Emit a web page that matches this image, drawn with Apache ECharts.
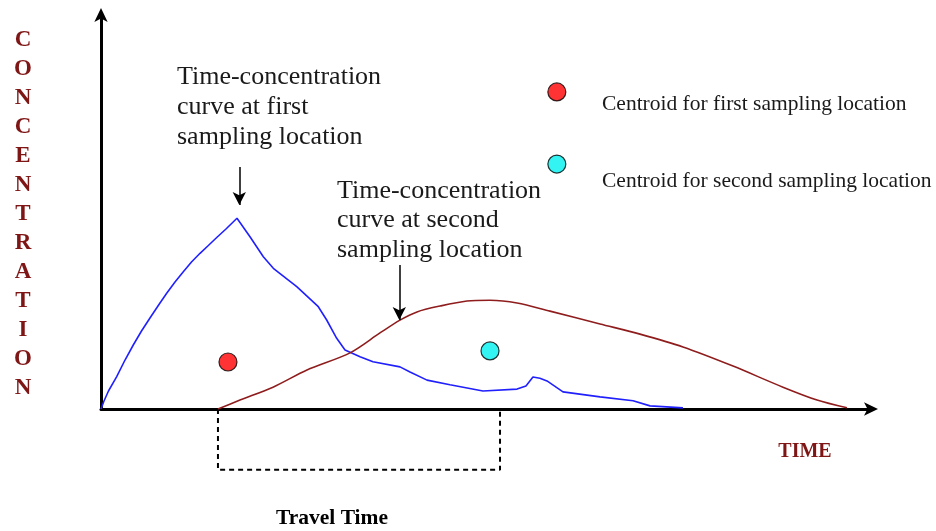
<!DOCTYPE html>
<html>
<head>
<meta charset="utf-8">
<script src="https://cdn.jsdelivr.net/npm/echarts@6/dist/echarts.min.js"></script>
<style>
html,body{margin:0;padding:0;background:#fff;}
#chart{width:936px;height:531px;}
</style>
</head>
<body>
<div id="chart"></div>
<script>
// Time-concentration curve at the first sampling location [time, concentration]
const firstCurve = [
  [0,0],[0.39,2.05],[0.97,4.62],[2.04,8.28],[3.12,12.56],[4.19,16.41],[5.26,20.0],
  [6.36,23.33],[7.66,27.18],[8.53,29.67],[9.61,32.56],[10.69,35.21],[11.75,37.69],
  [12.86,39.92],[13.94,41.92],[15.03,43.97],[16.23,46.15],[17.66,48.9],
  [19.35,44.18],[21.08,39.05],[22.38,36.08],[25.42,31.36],[28.22,26.23],[29.31,22.82],
  [30.61,18.13],[31.69,15.13],[33.64,13.41],[35.32,12.1],[38.83,10.8],[40.13,9.5],
  [42.34,7.4],[45.32,6.2],[49.61,4.6],[54.03,5.1],[55.19,5.9],[56.1,8.2],[57.0,7.9],
  [57.92,7.2],[60.0,4.4],[64.81,3.1],[69.1,2.1],[71.3,0.8],[75.58,0.3]
];
// Time-concentration curve at the second sampling location
const secondCurve = [
  [15.19,0],[18.05,2.3],[22.34,5.6],[26.75,10.0],[32.34,14.4],[36.23,19.5],
  [38.83,22.8],[41.04,24.9],[44.03,26.4],[47.53,27.7],[50.52,27.9],[54.03,27.2],
  [58.31,25.1],[64.81,21.8],[70.0,19.2],[75.58,15.9],[82.08,11.0],[88.57,5.6],
  [92.99,2.3],[96.88,0.3]
];
// Centroids
const centroidFirst = [16.49, 12.05];
const centroidSecond = [50.52, 14.9];
// Legend marker positions
const legendMarks = [[59.2, 81.3], [59.2, 62.8]];
const legendLabels = ['Centroid for first sampling location', 'Centroid for second sampling location'];
// Travel time bracket
const travelStart = 15.19;
const travelEnd = 51.82;
const bracketDepth = -15.6;
// Annotation arrows [x, yFrom, yTo]
const arrowFirst = [17.96, 62.05, 52.3];
const arrowSecond = [38.74, 36.9, 22.8];
const annotFirst = 'Time-concentration\ncurve at first\nsampling location';
const annotSecond = 'Time-concentration\ncurve at second\nsampling location';
const yTitle = 'CONCENTRATION';
const xTitle = 'TIME';
const travelTitle = 'Travel Time';

const serif = "'Liberation Serif','Times New Roman',serif";
const chart = echarts.init(document.getElementById('chart'));

const bracket = [[travelStart,0],[travelStart,bracketDepth],[travelEnd,bracketDepth],[travelEnd,0]];

chart.setOption({
  animation: false,
  backgroundColor: '#fff',
  grid: {left: 101, right: 65, top: 19, bottom: 122},
  xAxis: {
    type: 'value', min: 0, max: 100,
    axisLine: {show: true, lineStyle: {color: '#000', width: 3}, symbol: ['none','arrow'], symbolSize: [10,14], symbolOffset: [0,7]},
    axisTick: {show: false}, axisLabel: {show: false}, splitLine: {show: false}
  },
  yAxis: {
    type: 'value', min: 0, max: 100,
    axisLine: {show: true, lineStyle: {color: '#000', width: 3}, symbol: ['none','arrow'], symbolSize: [10,14], symbolOffset: [0,11]},
    axisTick: {show: false}, axisLabel: {show: false}, splitLine: {show: false}
  },
  series: [
    {
      type: 'line', data: firstCurve, showSymbol: false, smooth: false,
      lineStyle: {color: '#2020ff', width: 1.6}, z: 3
    },
    {
      type: 'line', data: secondCurve, showSymbol: false, smooth: 0.3,
      lineStyle: {color: '#8f1d1d', width: 1.6}, z: 3
    },
    {
      type: 'line', data: bracket, showSymbol: false, clip: false,
      lineStyle: {color: '#000', width: 2, type: [5,4]}, z: 1
    },
    {
      type: 'scatter', clip: false, symbolSize: 18, z: 5,
      data: [
        {value: centroidFirst, itemStyle: {color: '#ff0000'}},
        {value: centroidSecond, itemStyle: {color: '#00f0f0'}},
        {value: legendMarks[0], itemStyle: {color: '#ff0000'}},
        {value: legendMarks[1], itemStyle: {color: '#00f0f0'}}
      ],
      itemStyle: {borderColor: '#000', borderWidth: 1.2}
    },
    {
      type: 'line', data: [], z: 4,
      markLine: {
        silent: true, symbol: ['none','arrow'], symbolSize: [10,13],
        label: {show: false},
        lineStyle: {color: '#000', width: 1.5, type: 'solid'},
        data: [
          [{coord: [arrowFirst[0], arrowFirst[1]]}, {coord: [arrowFirst[0], arrowFirst[2]]}],
          [{coord: [arrowSecond[0], arrowSecond[1]]}, {coord: [arrowSecond[0], arrowSecond[2]]}]
        ]
      }
    }
  ],
  graphic: [
    {type: 'text', left: 177, top: 62, style: {text: annotFirst, font: '26px ' + serif, lineHeight: 30, fill: '#1a1a1a'}},
    {type: 'text', left: 337, top: 176, style: {text: annotSecond, font: '26px ' + serif, lineHeight: 29.5, fill: '#1a1a1a'}},
    {type: 'text', left: 602, top: 93, style: {text: legendLabels[0], font: '21.5px ' + serif, fill: '#1a1a1a'}},
    {type: 'text', left: 602, top: 170, style: {text: legendLabels[1], font: '21.5px ' + serif, fill: '#1a1a1a'}},
    {type: 'text', x: 23, y: 26, style: {text: yTitle.split('').join('\n'), font: 'bold 23px ' + serif, lineHeight: 29, fill: '#7f1616', align: 'center'}},
    {type: 'text', x: 805, y: 452, style: {text: xTitle, font: 'bold 20px ' + serif, fill: '#7f1616', align: 'center', verticalAlign: 'middle'}},
    {type: 'text', x: 332, y: 518, style: {text: travelTitle, font: 'bold 21.5px ' + serif, fill: '#000', align: 'center', verticalAlign: 'middle'}}
  ]
});
</script>
</body>
</html>
